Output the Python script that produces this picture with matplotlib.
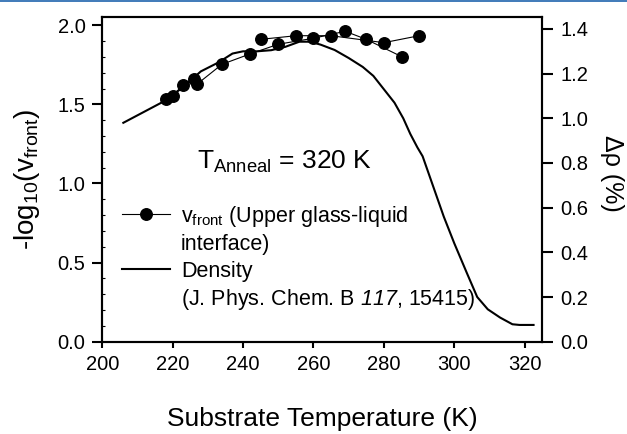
import matplotlib
matplotlib.use("Agg")
import matplotlib.pyplot as plt
from matplotlib.lines import Line2D
from matplotlib.ticker import MultipleLocator, FormatStrFormatter

plt.rcParams['font.family'] = ['Liberation Sans', 'DejaVu Sans']
plt.rcParams['mathtext.fontset'] = 'custom'
plt.rcParams['mathtext.rm'] = 'Liberation Sans'
plt.rcParams['mathtext.it'] = 'Liberation Sans:italic'
plt.rcParams['mathtext.sf'] = 'Liberation Sans:italic'
plt.rcParams['mathtext.bf'] = 'Liberation Sans:bold'
plt.rcParams['mathtext.default'] = 'regular'

# Front velocity, -log10(v_front), two measurement series
front_T_a = [218, 220, 223, 226, 227, 234, 242, 250, 260, 269, 275, 285]
front_v_a = [1.532, 1.555, 1.623, 1.661, 1.629, 1.753, 1.819, 1.880, 1.918, 1.962, 1.911, 1.802]
front_T_b = [245, 255, 265, 280, 290]
front_v_b = [1.911, 1.934, 1.934, 1.890, 1.934]

# Density increase (%) vs substrate temperature
dens_T = [206, 212, 218, 223, 228, 233, 237, 240, 244, 248, 252, 256, 259, 262, 266,
          270, 274, 277, 280, 283, 285.5, 287.5, 289.5, 291, 293, 295, 297, 300, 303.6,
          306.5, 309.5, 313, 316.5, 318.5, 322.5]
dens_v = [0.98, 1.03, 1.08, 1.14, 1.21, 1.25, 1.29, 1.30, 1.30, 1.305, 1.32, 1.343, 1.343,
          1.33, 1.306, 1.27, 1.23, 1.19, 1.13, 1.07, 1.00, 0.93, 0.87, 0.83, 0.74, 0.65,
          0.56, 0.44, 0.306, 0.20, 0.145, 0.108, 0.078, 0.075, 0.075]

x_ticks = [200, 220, 240, 260, 280, 300, 320]

fig = plt.figure(figsize=(6.27, 4.34), dpi=100)
fig.subplots_adjust(left=0.163, right=0.865, bottom=0.2127, top=0.960)
ax = fig.add_subplot(111)
ax2 = ax.twinx()
ax.set_zorder(ax2.get_zorder() + 1)
ax.patch.set_visible(False)

dens_line, = ax2.plot(dens_T, dens_v, color='black', lw=1.5, zorder=2)

mk = dict(color='black', lw=0.8, marker='o', markersize=8.3,
          markerfacecolor='black', markeredgecolor='black')
front_line, = ax.plot(front_T_a, front_v_a, **mk)
ax.plot(front_T_b, front_v_b, **mk)

ax.set_xlim(200, 325)
ax.set_ylim(0, 2.05)
ax2.set_ylim(0, 1.452)

ax.set_xticks(x_ticks)
ax.yaxis.set_major_locator(MultipleLocator(0.5))
ax.yaxis.set_minor_locator(MultipleLocator(0.1))
ax.yaxis.set_major_formatter(FormatStrFormatter('%.1f'))
ax2.yaxis.set_major_locator(MultipleLocator(0.2))
ax2.yaxis.set_major_formatter(FormatStrFormatter('%.1f'))

for a in (ax, ax2):
    for s in a.spines.values():
        s.set_linewidth(1.5)

ax.tick_params(axis='y', which='major', direction='out', length=7, width=1.5,
               pad=5, labelsize=14.5)
ax.tick_params(axis='y', which='minor', direction='in', length=2.5, width=0.8)
ax.tick_params(axis='x', which='major', direction='out', length=4.5, width=1.5,
               pad=5, labelsize=14.5)
ax2.tick_params(axis='y', which='major', direction='out', length=8, width=1.5,
                pad=5, labelsize=14.5)

ax.set_xlabel('Substrate Temperature (K)', fontsize=19)
ax.xaxis.set_label_coords(0.5, -0.201)
ax.xaxis.label.set_va('top')
ax.set_ylabel('-log$_{10}$(v$_{front}$)', fontsize=20)
ax.yaxis.set_label_coords(-0.137, 0.5)
ax2.set_ylabel('Δρ (%)', fontsize=18, rotation=270, va='bottom')
ax2.yaxis.set_label_coords(1.131, 0.52)

ax.text(0.2145, 0.5345, 'T$_{Anneal}$ = 320 K', transform=ax.transAxes,
        fontsize=19, ha='left', va='baseline')

blank = Line2D([], [], linestyle='none')
leg = ax.legend([front_line, blank, dens_line, blank],
                ['v$_{front}$ (Upper glass-liquid', 'interface)', 'Density',
                 '(J. Phys. Chem. B $\\mathsf{117}$, 15415)'],
                loc='upper left', bbox_to_anchor=(0.044, 0.426), frameon=False,
                fontsize=15.5, handlelength=2.25, handletextpad=0.5,
                labelspacing=0.26, borderpad=0, borderaxespad=0)

fig.add_artist(Line2D([0, 1], [1 - 0.8 / 434, 1 - 0.8 / 434], transform=fig.transFigure,
                      color='#1f63ad', lw=1.2))

fig.savefig('out.png', dpi=100)
